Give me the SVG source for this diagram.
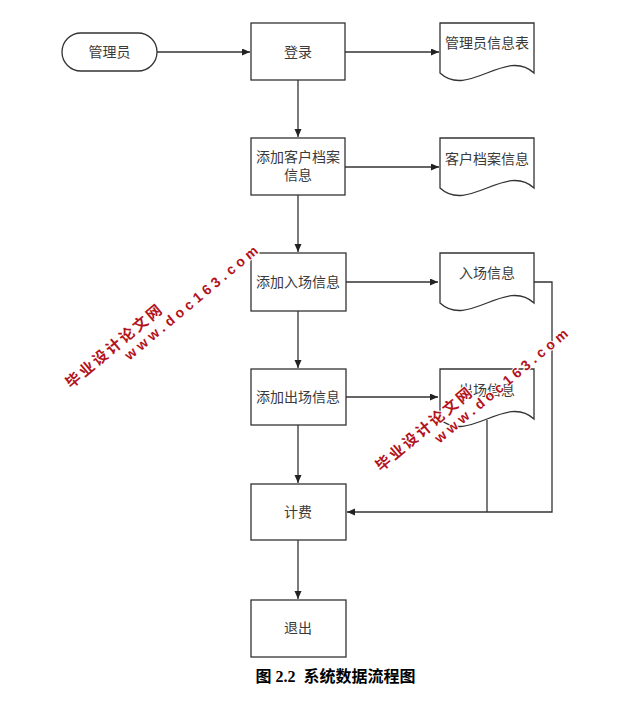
<svg xmlns="http://www.w3.org/2000/svg" width="640" height="714" viewBox="0 0 640 714">
<style>
.box{fill:#fff;stroke:#333;stroke-width:1.3}
.lbl{font-family:"Liberation Serif","Noto Sans CJK SC",serif;font-size:14px;fill:#3a3a3a;text-anchor:middle;dominant-baseline:central}
.ln{fill:none;stroke:#333;stroke-width:1.3}
.wm1{font-family:"Liberation Sans","Noto Sans CJK SC",sans-serif;font-weight:bold;font-size:15px;letter-spacing:2.5px;fill:#b3131b;stroke:#fff;stroke-width:2;paint-order:stroke}
.wm2{font-family:"Liberation Sans","Noto Sans CJK SC",sans-serif;font-weight:bold;font-size:14px;letter-spacing:4px;fill:#b3131b;stroke:#fff;stroke-width:2;paint-order:stroke}
.cap{font-family:"Liberation Serif","Noto Sans CJK SC",serif;font-weight:bold;font-size:16px;fill:#000;text-anchor:middle;dominant-baseline:central}
</style>
<defs>
<marker id="arr" markerUnits="userSpaceOnUse" markerWidth="9" markerHeight="8" refX="8" refY="3.5" orient="auto">
<path d="M0,0 L8,3.5 L0,7 z" fill="#222"/>
</marker>
<path id="doc" d="M0,0 H94 V50 C66,24 28,76 0,50 Z"/>
</defs>
<rect width="640" height="714" fill="#fff"/>
<g id="connectors">
<path class="ln" d="M157,52 H250" marker-end="url(#arr)"/>
<path class="ln" d="M345,52 H439" marker-end="url(#arr)"/>
<path class="ln" d="M298,80 V137" marker-end="url(#arr)"/>
<path class="ln" d="M345,167 H439" marker-end="url(#arr)"/>
<path class="ln" d="M298,195 V252" marker-end="url(#arr)"/>
<path class="ln" d="M346,282 H438" marker-end="url(#arr)"/>
<path class="ln" d="M298,311 V368" marker-end="url(#arr)"/>
<path class="ln" d="M346,397 H438" marker-end="url(#arr)"/>
<path class="ln" d="M298,425 V483" marker-end="url(#arr)"/>
<path class="ln" d="M298,540 V599" marker-end="url(#arr)"/>
<path class="ln" d="M534,282 H552 V512 H347" marker-end="url(#arr)"/>
<path class="ln" d="M487,420 V512"/>
</g>
<g id="admin"><rect class="box" x="62" y="33" width="95" height="38" rx="19"/><text class="lbl" x="109.5" y="52">管理员</text></g>
<g id="login"><rect class="box" x="251" y="23" width="94" height="57"/><text class="lbl" x="298" y="52">登录</text></g>
<g id="admininfo"><use href="#doc" class="box" x="440" y="23"/><text class="lbl" x="487" y="43">管理员信息表</text></g>
<g id="addcustomer"><rect class="box" x="251" y="138" width="94" height="57"/><text class="lbl" x="298" y="157">添加客户档案</text><text class="lbl" x="298" y="175">信息</text></g>
<g id="customerinfo"><use href="#doc" class="box" x="440" y="138"/><text class="lbl" x="487" y="159">客户档案信息</text></g>
<g id="addentry"><rect class="box" x="251" y="253" width="95" height="58"/><text class="lbl" x="298" y="282">添加入场信息</text></g>
<g id="entryinfo"><use href="#doc" class="box" x="440" y="253"/><text class="lbl" x="487" y="273">入场信息</text></g>
<g id="addexit"><rect class="box" x="251" y="369" width="95" height="56"/><text class="lbl" x="298" y="397">添加出场信息</text></g>
<g id="exitinfo"><use href="#doc" class="box" x="440" y="369"/><text class="lbl" x="487" y="390">出场信息</text></g>
<g id="billing"><rect class="box" x="251" y="484" width="95" height="56"/><text class="lbl" x="298" y="512">计费</text></g>
<g id="quit"><rect class="box" x="251" y="600" width="95" height="57"/><text class="lbl" x="298" y="628">退出</text></g>
<g id="caption"><text class="cap" x="335.5" y="676.5" xml:space="preserve">图 2.2  系统数据流程图</text></g>
<g id="watermark1" transform="translate(71,389) rotate(-40)"><text class="wm1" x="0" y="0">毕业设计论文网</text><text class="wm2" x="63" y="16">www.doc163.com</text></g>
<g id="watermark2" transform="translate(381,472) rotate(-40)"><text class="wm1" x="0" y="0">毕业设计论文网</text><text class="wm2" x="63" y="16">www.doc163.com</text></g>
</svg>
